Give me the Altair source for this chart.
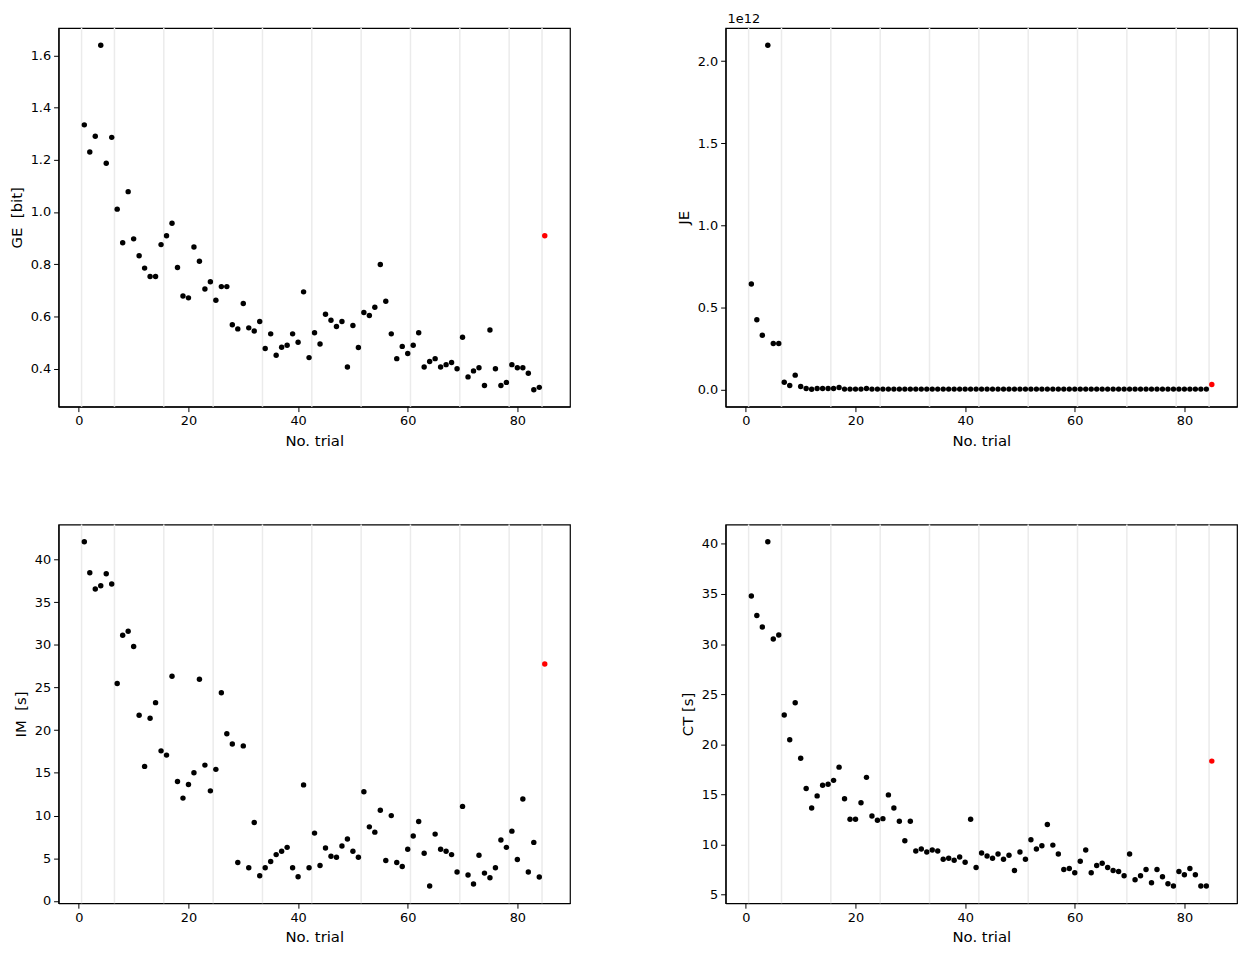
import altair as alt
import pandas as pd

trials = list(range(1, 85))
test_trial = 85
block_edges = [0.5, 6.5, 15.5, 24.5, 33.5, 42.5, 51.5, 60.5, 69.5, 78.5, 84.5]

ge = [1.334, 1.230, 1.290, 1.639, 1.187, 1.286, 1.011, 0.882, 1.078, 0.897,
      0.832, 0.785, 0.753, 0.753, 0.875, 0.909, 0.957, 0.787, 0.678, 0.671,
      0.866, 0.811, 0.705, 0.733, 0.662, 0.714, 0.714, 0.568, 0.552, 0.649,
      0.556, 0.544, 0.580, 0.477, 0.533, 0.451, 0.482, 0.489, 0.533, 0.501,
      0.694, 0.442, 0.537, 0.494, 0.608, 0.585, 0.561, 0.580, 0.406, 0.565,
      0.481, 0.615, 0.603, 0.635, 0.799, 0.658, 0.533, 0.438, 0.485, 0.458,
      0.489, 0.537, 0.406, 0.427, 0.438, 0.406, 0.415, 0.423, 0.399, 0.520,
      0.368, 0.391, 0.403, 0.335, 0.548, 0.399, 0.335, 0.347, 0.415, 0.403,
      0.403, 0.382, 0.319, 0.328]
ge_test = 0.909

# JE in units of 1e12
je = [0.642, 0.425, 0.330, 2.097, 0.280, 0.280, 0.044, 0.024, 0.087, 0.018,
      0.006, 0.001, 0.006, 0.006, 0.006, 0.006, 0.012, 0.002, 0.002, 0.002,
      0.002, 0.006, 0.002, 0.002, 0.002, 0.002, 0.002, 0.002, 0.002, 0.002,
      0.002, 0.002, 0.002, 0.002, 0.002, 0.002, 0.002, 0.002, 0.002, 0.002,
      0.002, 0.002, 0.002, 0.002, 0.002, 0.002, 0.002, 0.002, 0.002, 0.002,
      0.002, 0.002, 0.002, 0.002, 0.002, 0.002, 0.002, 0.002, 0.002, 0.002,
      0.002, 0.002, 0.002, 0.002, 0.002, 0.002, 0.002, 0.002, 0.002, 0.002,
      0.002, 0.002, 0.002, 0.002, 0.002, 0.002, 0.002, 0.002, 0.002, 0.002,
      0.002, 0.002, 0.002, 0.002]
je_test = 0.030

im = [42.09, 38.45, 36.55, 36.94, 38.33, 37.13, 25.48, 31.13, 31.60, 29.82,
      21.76, 15.76, 21.41, 23.23, 17.58, 17.08, 26.33, 13.98, 12.04, 13.63,
      15.02, 25.98, 15.91, 12.89, 15.41, 24.39, 19.59, 18.39, 4.49, 18.16,
      3.87, 9.18, 2.94, 3.87, 4.61, 5.42, 5.81, 6.27, 3.87, 2.83,
      13.59, 3.87, 7.94, 4.14, 6.20, 5.23, 5.11, 6.43, 7.24, 5.81,
      5.11, 12.78, 8.67, 8.05, 10.61, 4.72, 9.99, 4.49, 4.03, 6.04,
      7.59, 9.29, 5.58, 1.74, 7.82, 6.04, 5.81, 5.42, 3.37, 11.07,
      3.02, 1.97, 5.34, 3.25, 2.71, 3.87, 7.12, 6.27, 8.17, 4.84,
      11.93, 3.37, 6.85, 2.79]
im_test = 27.76

ct = [34.80, 32.85, 31.70, 40.20, 30.51, 30.91, 22.93, 20.46, 24.15, 18.61,
      15.58, 13.64, 14.85, 15.91, 16.01, 16.40, 17.72, 14.56, 12.51, 12.51,
      14.16, 16.70, 12.84, 12.42, 12.58, 14.95, 13.64, 12.32, 10.37, 12.32,
      9.35, 9.55, 9.25, 9.45, 9.35, 8.53, 8.63, 8.43, 8.76, 8.23,
      12.51, 7.70, 9.15, 8.86, 8.63, 9.05, 8.53, 8.92, 7.41, 9.25,
      8.53, 10.47, 9.55, 9.88, 11.99, 9.94, 9.05, 7.50, 7.60, 7.18,
      8.33, 9.45, 7.18, 7.90, 8.13, 7.70, 7.41, 7.31, 6.88, 9.05,
      6.48, 6.88, 7.50, 6.19, 7.50, 6.78, 6.09, 5.86, 7.31, 6.98,
      7.60, 6.98, 5.86, 5.86]
ct_test = 18.32

x_ticks = [0, 20, 40, 60, 80]
X_DOMAIN = [-3.7, 89.6]
W, H = 516, 382
FONT = "DejaVu Sans"


def panel(values, test_value, ytitle, ydomain, yticks, yfmt, offset_text=None):
    df = pd.DataFrame({"trial": trials, "value": values})
    df_test = pd.DataFrame({"trial": [test_trial], "value": [test_value]})
    df_edges = pd.DataFrame({"edge": block_edges})

    xscale = alt.Scale(domain=X_DOMAIN, nice=False, zero=False)
    yscale = alt.Scale(domain=ydomain, nice=False, zero=False)
    xaxis = alt.Axis(title="No. trial", values=x_ticks, format="d")
    yaxis = alt.Axis(title=ytitle, values=yticks, format=yfmt)

    rules = alt.Chart(df_edges).mark_rule(color="#ebebeb", strokeWidth=1.5).encode(
        x=alt.X("edge:Q", scale=xscale, axis=xaxis)
    )
    pts = alt.Chart(df).mark_circle(color="black", size=30, opacity=1).encode(
        x=alt.X("trial:Q", scale=xscale, axis=xaxis),
        y=alt.Y("value:Q", scale=yscale, axis=yaxis),
    )
    red = alt.Chart(df_test).mark_circle(color="#ff0000", size=30, opacity=1).encode(
        x=alt.X("trial:Q", scale=xscale, axis=xaxis),
        y=alt.Y("value:Q", scale=yscale, axis=yaxis),
    )
    layers = [rules, pts, red]
    if offset_text:
        txt = alt.Chart(pd.DataFrame({"t": [offset_text]})).mark_text(
            align="left", baseline="alphabetic", fontSize=13, font=FONT, color="black"
        ).encode(x=alt.value(2), y=alt.value(-5), text="t:N")
        layers.append(txt)
    return alt.layer(*layers).properties(width=W, height=H)


p1 = panel(ge, ge_test, "GE\u00a0 [bit]", [0.254, 1.705],
           [0.4, 0.6, 0.8, 1.0, 1.2, 1.4, 1.6], ".1f")
p2 = panel(je, je_test, "JE", [-0.105, 2.202],
           [0.0, 0.5, 1.0, 1.5, 2.0], ".1f", offset_text="1e12")
p3 = panel(im, im_test, "IM\u00a0 [s]", [-0.28, 44.1],
           [0, 5, 10, 15, 20, 25, 30, 35, 40], "d")
p4 = panel(ct, ct_test, "CT [s]", [4.14, 41.92],
           [5, 10, 15, 20, 25, 30, 35, 40], "d")

chart = alt.concat(
    p1, p2, p3, p4, columns=2, spacing={"row": 119, "column": 157}
).properties(
    bounds="flush",
    padding={"left": 0, "top": 0, "right": 2, "bottom": 2},
    background="white",
).configure_view(
    stroke="black", strokeWidth=1.2
).configure_axis(
    grid=False,
    labelFont=FONT, titleFont=FONT,
    labelFontSize=13, titleFontSize=15,
    titleFontWeight="normal",
    labelColor="black", titleColor="black",
    tickColor="black", domainColor="black",
    tickSize=5, labelPadding=3, titlePadding=6,
    domainWidth=1.2, tickWidth=1,
)

chart.save("out.html", embed_options={"renderer": "svg", "actions": False})
